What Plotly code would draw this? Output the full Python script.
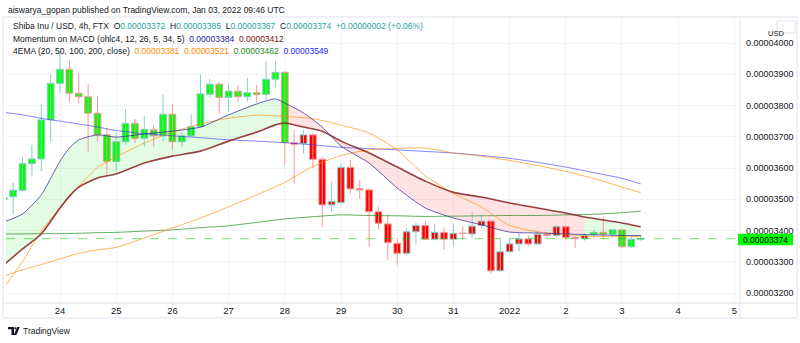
import pandas as pd
import plotly.graph_objects as go

# ---------------------------------------------------------------------------
# Data: SHIB/USD 4h bars (FTX). Prices are in units of 0.00000001 USD.
# ---------------------------------------------------------------------------
UNIT = 1e-8
FIRST_BAR = "2021-12-23 00:00"
BAR_HOURS = 4

OPEN = [3500, 3508, 3528, 3614, 3629, 3754, 3871, 3916, 3839, 3828, 3775, 3706, 3621, 3684,
        3743, 3695, 3722, 3703, 3772, 3684, 3703, 3732, 3836, 3868, 3826, 3846, 3828, 3841,
        3835, 3884, 3906, 3681, 3678, 3706, 3628, 3482, 3489, 3602, 3534, 3530, 3460, 3421,
        3359, 3327, 3396, 3416, 3372, 3394, 3372, 3392, 3389, 3416, 3430, 3271, 3332, 3357,
        3373, 3357, 3388, 3384, 3412, 3378, 3374, 3386, 3394, 3388, 3402, 3348, 3372]
HIGH = [3512, 3552, 3636, 3674, 3804, 3900, 3975, 3946, 3903, 3868, 3831, 3728, 3714, 3788,
        3757, 3765, 3738, 3834, 3804, 3714, 3772, 3898, 3885, 3876, 3871, 3863, 3888, 3866,
        3942, 3942, 3910, 3722, 3722, 3708, 3636, 3556, 3615, 3626, 3562, 3535, 3477, 3450,
        3375, 3407, 3425, 3432, 3420, 3410, 3423, 3413, 3460, 3450, 3432, 3372, 3376, 3391,
        3385, 3400, 3392, 3418, 3415, 3385, 3392, 3402, 3445, 3405, 3405, 3378, 3385]
LOW = [3492, 3450, 3524, 3572, 3590, 3686, 3839, 3812, 3807, 3652, 3684, 3578, 3588, 3674,
       3679, 3668, 3668, 3684, 3658, 3668, 3700, 3727, 3825, 3775, 3780, 3812, 3812, 3810,
       3818, 3860, 3610, 3551, 3647, 3600, 3412, 3460, 3486, 3517, 3501, 3346, 3403, 3306,
       3290, 3320, 3354, 3370, 3368, 3338, 3348, 3370, 3375, 3407, 3263, 3268, 3330, 3334,
       3350, 3355, 3378, 3380, 3371, 3343, 3368, 3376, 3372, 3380, 3345, 3345, 3367]
CLOSE = [3505, 3529, 3614, 3629, 3754, 3871, 3916, 3839, 3828, 3775, 3706, 3621, 3684, 3743,
         3695, 3724, 3703, 3772, 3684, 3703, 3732, 3837, 3868, 3826, 3846, 3828, 3841, 3835,
         3884, 3906, 3681, 3676, 3706, 3628, 3482, 3493, 3602, 3533, 3530, 3460, 3423, 3361,
         3327, 3396, 3416, 3372, 3394, 3372, 3391, 3390, 3414, 3430, 3271, 3332, 3357, 3373,
         3357, 3388, 3384, 3412, 3378, 3374, 3384, 3394, 3388, 3402, 3348, 3372, 3374]
# Momentum-on-MACD bar colouring: "G" = rising momentum, "R" = falling momentum
MOMENTUM = ["G"] * 31 + ["R"] * 32 + ["G"] * 6

# 4EMA (20, 50, 100, 200) sampled at these bar numbers (0 = first bar)
EMA_BARS = [0, 2, 4, 6, 8, 10, 12, 15, 18, 21, 24, 27, 30, 33, 36, 39, 42, 45, 48, 51,
            54, 57, 60, 63, 66, 68]
EMA20 = [3216, 3301, 3398, 3473, 3541, 3602, 3635, 3680, 3715, 3741, 3759, 3769, 3765, 3758,
         3737, 3712, 3658, 3575, 3519, 3475, 3416, 3396, 3387, 3381, 3380, 3381]
EMA50 = [3254, 3274, 3291, 3309, 3327, 3338, 3346, 3376, 3408, 3440, 3476, 3514, 3554, 3605,
         3640, 3658, 3663, 3664, 3648, 3638, 3624, 3608, 3589, 3566, 3539, 3521]
EMA100 = [3389, 3389, 3390, 3390, 3391, 3393, 3394, 3398, 3402, 3409, 3415, 3426, 3437, 3444,
          3450, 3448, 3447, 3445, 3446, 3447, 3448, 3448, 3450, 3452, 3457, 3462]
EMA200 = [3778, 3770, 3759, 3750, 3741, 3731, 3720, 3710, 3703, 3697, 3690, 3686, 3681, 3674,
          3666, 3662, 3658, 3653, 3648, 3640, 3631, 3618, 3603, 3585, 3567, 3549]

# Momentum on MACD: fast / slow lines
MACD_BARS = [0, 2, 4, 6, 7, 8, 10, 12, 15, 18, 21, 24, 27, 29, 30, 32, 34, 36, 39, 42, 45,
             48, 51, 54, 57, 60, 62, 66, 68]
MACD_FAST = [3427, 3453, 3514, 3622, 3664, 3690, 3706, 3699, 3709, 3718, 3731, 3770, 3805,
             3821, 3808, 3776, 3731, 3670, 3616, 3536, 3472, 3440, 3418, 3395, 3392, 3389,
             3387, 3384, 3384]
MACD_SLOW = [3290, 3341, 3389, 3472, 3510, 3539, 3568, 3581, 3616, 3638, 3654, 3686, 3715,
             3738, 3744, 3731, 3718, 3686, 3648, 3603, 3558, 3522, 3507, 3488, 3472, 3456,
             3443, 3424, 3412]
# cloud colour regimes between the two MACD lines (start bar, end bar, colour)
CLOUD = [(0, 30, "G"), (30, 62, "R"), (62, 68, "G")]

DAY_TICKS = pd.date_range("2021-12-24", "2022-01-05", freq="D")
DAY_LABELS = ["24", "25", "26", "27", "28", "29", "30", "31", "2022", "2", "3", "4", "5"]
PRICE_TICKS = [3200, 3300, 3400, 3500, 3600, 3700, 3800, 3900, 4000]

# ---------------------------------------------------------------------------
W, H = 800, 343
L, R, T, B = 6, 60, 19, 40
PW, PH = W - L - R, H - T - B
Y_MIN, Y_MAX = 3168, 4076.8
FONT = "Liberation Sans"
INK = "#131722"
BORDER = "#e0e3eb"
GRID = "#f2f4f8"


def fx(px):
    return (px - L) / PW


def fy(py):
    return (H - B - py) / PH


def usd(v):
    return f"{v * UNIT:.8f}"


bar_times = pd.date_range(FIRST_BAR, periods=len(OPEN), freq=f"{BAR_HOURS}h")
ema_t = bar_times[EMA_BARS]
macd_t = bar_times[MACD_BARS]

fig = go.Figure()

# MACD cloud
cloud_fill = {"G": "rgba(0,230,0,0.11)", "R": "rgba(255,0,0,0.11)"}
for b0, b1, c in CLOUD:
    idx = [i for i, b in enumerate(MACD_BARS) if b0 <= b <= b1]
    xs = [macd_t[i] for i in idx] + [macd_t[i] for i in reversed(idx)]
    ys = [MACD_FAST[i] * UNIT for i in idx] + [MACD_SLOW[i] * UNIT for i in reversed(idx)]
    fig.add_trace(go.Scatter(x=xs, y=ys, mode="lines", fill="toself", fillcolor=cloud_fill[c],
                             line=dict(width=0), hoverinfo="skip"))

# candles: wicks then bodies
UP_LINE, DN_LINE = "#86cfc6", "#f09a98"
BODY = {"G": "#00ff00", "R": "#ff0000"}
rising = [c >= o for o, c in zip(OPEN, CLOSE)]
for up, col in ((True, UP_LINE), (False, DN_LINE)):
    wx, wy = [], []
    for i, t in enumerate(bar_times):
        if rising[i] == up:
            wx += [t, t, None]
            wy += [LOW[i] * UNIT, HIGH[i] * UNIT, None]
    fig.add_trace(go.Scatter(x=wx, y=wy, mode="lines", line=dict(color=col, width=1),
                             hoverinfo="skip"))

fig.add_trace(go.Bar(
    x=bar_times,
    base=[min(o, c) * UNIT for o, c in zip(OPEN, CLOSE)],
    y=[max(abs(c - o), 2) * UNIT for o, c in zip(OPEN, CLOSE)],
    width=BAR_HOURS * 3600 * 1000 * 0.72,
    marker=dict(color=[BODY[m] for m in MOMENTUM],
                line=dict(color=[UP_LINE if r else DN_LINE for r in rising], width=1)),
    hoverinfo="skip"))

# EMA lines
for vals, col in ((EMA200, "rgba(50,50,255,0.6)"), (EMA100, "rgba(30,140,30,0.7)"),
                  (EMA50, "rgba(255,140,0,0.65)"), (EMA20, "rgba(255,140,0,0.65)")):
    fig.add_trace(go.Scatter(x=ema_t, y=[v * UNIT for v in vals], mode="lines",
                             line=dict(color=col, width=1, shape="spline", smoothing=0.6),
                             hoverinfo="skip"))

# MACD lines
fig.add_trace(go.Scatter(x=macd_t, y=[v * UNIT for v in MACD_SLOW], mode="lines",
                         line=dict(color="rgba(128,20,20,0.8)", width=1.6, shape="spline",
                                   smoothing=0.6), hoverinfo="skip"))
fig.add_trace(go.Scatter(x=macd_t, y=[v * UNIT for v in MACD_FAST], mode="lines",
                         line=dict(color="rgba(40,30,150,0.7)", width=1, shape="spline",
                                   smoothing=0.6), hoverinfo="skip"))

last = CLOSE[-1]
prev = CLOSE[-2]

# current price line
fig.add_shape(type="line", xref="paper", yref="y", x0=0, x1=1, y0=last * UNIT, y1=last * UNIT,
              line=dict(color="rgba(0,210,0,0.55)", width=1, dash="dash"))

# frame
frame = dict(color=BORDER, width=1)
fig.add_shape(type="rect", xref="paper", yref="paper", x0=fx(3), x1=fx(797), y0=fy(17),
              y1=fy(318), line=frame)
fig.add_shape(type="line", xref="paper", yref="paper", x0=fx(3), x1=fx(797), y0=fy(303),
              y1=fy(303), line=frame)
fig.add_shape(type="line", xref="paper", yref="paper", x0=fx(740), x1=fx(740), y0=fy(17),
              y1=fy(318), line=frame)

# last price tag on the price scale
tag_py = T + (Y_MAX - last) / (Y_MAX - Y_MIN) * PH
fig.add_shape(type="rect", xref="paper", yref="paper", x0=fx(738), x1=fx(793),
              y0=fy(tag_py + 6.5), y1=fy(tag_py - 5), line=dict(width=0), fillcolor="#00ff00")
fig.add_annotation(xref="paper", yref="paper", x=fx(765.5), y=fy(tag_py + 1), text=usd(last),
                   xanchor="center", yanchor="middle", showarrow=False,
                   font=dict(family=FONT, size=8.5, color="#000000"))

# currency badge
fig.add_shape(type="rect", xref="paper", yref="paper", x0=fx(777), x1=fx(795), y0=fy(33),
              y1=fy(21), line=dict(color=BORDER, width=1), fillcolor="white")
fig.add_annotation(xref="paper", yref="paper", x=fx(786), y=fy(27), text="USD",
                   showarrow=False, font=dict(family=FONT, size=7.5, color=INK))


def span(text, color):
    return f"<span style='color:{color}'>{text}</span>"


TEAL = "#26a69a"
chg = last - prev
sign = "+" if chg >= 0 else "-"
line1 = ("Shiba Inu / USD, 4h, FTX  "
         f"O{span(usd(OPEN[-1]), TEAL)}  H{span(usd(HIGH[-1]), TEAL)}  "
         f"L{span(usd(LOW[-1]), TEAL)}  C{span(usd(last), TEAL)}  "
         + span(f"{sign}{usd(abs(chg))} ({sign}{abs(chg) / prev * 100:.2f}%)", TEAL))
line2 = ("Momentum on MACD (ohlc4, 12, 26, 5, 34, 5)  "
         f"{span(usd(MACD_FAST[-1]), '#22229a')}  {span(usd(MACD_SLOW[-1]), '#7f1010')}")
line3 = ("4EMA (20, 50, 100, 200, close)  "
         f"{span(usd(EMA20[-1]), '#ff8c00')}  {span(usd(EMA50[-1]), '#ff8c00')}  "
         f"{span(usd(EMA100[-1]), '#1b8a1b')}  {span(usd(EMA200[-1]), '#2222ff')}")

for txt, px, py in (("aiswarya_gopan published on TradingView.com, Jan 03, 2022 09:46 UTC", 6, 10),
                    (line1, 11, 26), (line2, 11, 39), (line3, 11, 51)):
    fig.add_annotation(xref="paper", yref="paper", x=fx(px), y=fy(py), text=txt,
                       xanchor="left", yanchor="middle", showarrow=False,
                       font=dict(family=FONT, size=8.5, color=INK))


# TradingView wordmark
def path(points):
    return "M " + " L ".join(f"{fx(x)} {fy(y)}" for x, y in points) + " Z"


fig.add_shape(type="path", xref="paper", yref="paper",
              path=path([(8, 327), (14, 327), (14, 335), (11.5, 335), (11.5, 329.3), (8, 329.3)]),
              fillcolor=INK, line=dict(width=0))
fig.add_shape(type="circle", xref="paper", yref="paper", x0=fx(14.3), x1=fx(16.5),
              y0=fy(329.4), y1=fy(327.2), fillcolor=INK, line=dict(width=0))
fig.add_shape(type="path", xref="paper", yref="paper",
              path=path([(17.2, 327), (19.8, 327), (16.4, 335), (13.8, 335)]),
              fillcolor=INK, line=dict(width=0))
fig.add_annotation(xref="paper", yref="paper", x=fx(20.5), y=fy(331), text="TradingView",
                   xanchor="left", yanchor="middle", showarrow=False,
                   font=dict(family=FONT, size=8.5, color=INK))

fig.update_layout(
    width=W, height=H, margin=dict(l=L, r=R, t=T, b=B, pad=0),
    paper_bgcolor="white", plot_bgcolor="white", showlegend=False, barmode="overlay",
    xaxis=dict(type="date", range=["2021-12-23 00:56", "2022-01-05 02:24"],
               tickvals=DAY_TICKS, ticktext=DAY_LABELS, showgrid=True, gridcolor=GRID,
               gridwidth=1, ticks="", zeroline=False, showline=False, fixedrange=True,
               tickfont=dict(family=FONT, size=9.5, color=INK)),
    yaxis=dict(side="right", range=[Y_MIN * UNIT, Y_MAX * UNIT],
               tickvals=[v * UNIT for v in PRICE_TICKS], ticktext=[usd(v) for v in PRICE_TICKS],
               showgrid=True, gridcolor=GRID, gridwidth=1, ticks="", zeroline=False,
               showline=False, fixedrange=True, ticklabelstandoff=5,
               tickfont=dict(family=FONT, size=9, color=INK)),
)

fig.write_html("out.html")
